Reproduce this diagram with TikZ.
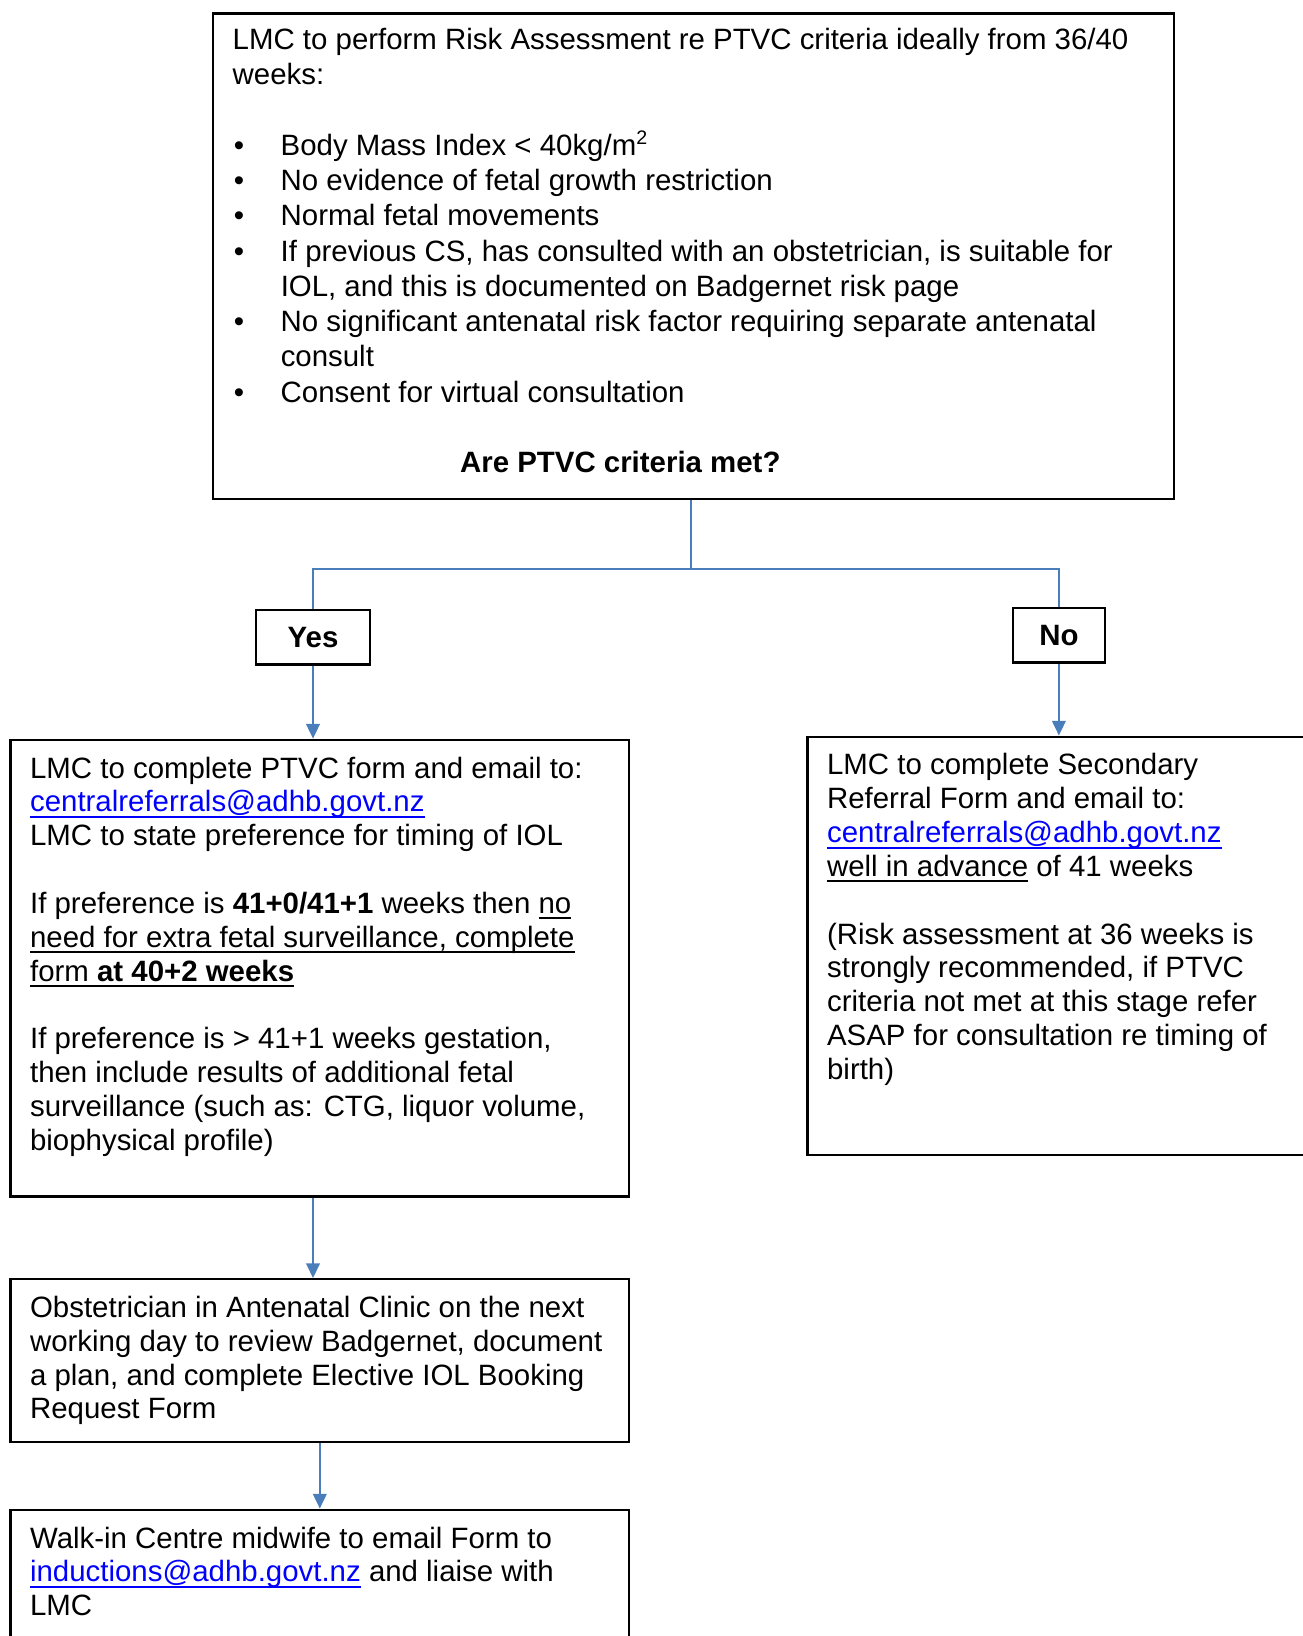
\documentclass[tikz,border=0pt]{standalone}
\usepackage{fontspec}
\setmainfont{Liberation Sans}
\usetikzlibrary{arrows.meta}
\definecolor{wireblue}{RGB}{74,126,187}
\definecolor{linkblue}{RGB}{0,0,255}
\newsavebox{\ulbox}
\newcommand{\uln}[1]{\leavevmode\sbox{\ulbox}{#1}\rlap{\rule[-2.4pt]{\wd\ulbox}{0.8pt}}\usebox{\ulbox}}
\newcommand{\mail}[1]{\textcolor{linkblue}{\uln{#1}}}
\newcommand{\bul}{\par\noindent\hangindent=19.6pt\hangafter=1\makebox[19.6pt][l]{\hspace{0.5pt}\textbullet}}
\newcommand{\boxtext}[3]{\parbox[t][#1][t]{#2}{\raggedright\strut#3}}

\begin{document}
\begin{tikzpicture}[x=0.408pt,y=-0.408pt,
	stepbox/.style={draw,line width=0.9pt,anchor=north west,inner xsep=8pt,inner ysep=6pt,
		font=\fontsize{12pt}{13.8pt}\selectfont},
	choice/.style={draw,line width=0.9pt,inner sep=0pt,minimum height=22.2pt,
		font=\fontsize{12pt}{13.8pt}\selectfont\bfseries},
	wire/.style={draw=wireblue,line width=0.75pt},
	flow/.style={wire,-{Triangle[width=5.6pt,length=6pt]}}]
	\useasboundingbox (0,0) rectangle (1303,1636);
	\clip (0,0) rectangle (1303,1636);

	\node[stepbox,inner ysep=4.5pt,font=\fontsize{12pt}{14.4pt}\selectfont] (risk) at (212,12.5) {\boxtext{188.9pt}{376.1pt}{%
		LMC to perform Risk Assessment re PTVC criteria ideally from 36/40\\
		weeks:\par
		\vspace{\baselineskip}
		\bul Body Mass Index < 40kg/m\textsuperscript{2}
		\bul No evidence of fetal growth restriction
		\bul Normal fetal movements
		\bul If previous CS, has consulted with an obstetrician, is suitable for\newline
		IOL, and this is documented on Badgernet risk page
		\bul No significant antenatal risk factor requiring separate antenatal\newline
		consult
		\bul Consent for virtual consultation\par
		\vspace{\baselineskip}
		\hspace*{92.8pt}\textbf{Are PTVC criteria met?}}};

	\node[choice,minimum width=46.8pt] (yes) at (313,637.3) {Yes};
	\node[choice,minimum width=37.5pt] (no) at (1058.9,635.2) {No};

	\node[stepbox] (ptvcform) at (9.4,738.6) {\boxtext{174.4pt}{236.4pt}{%
		LMC to complete PTVC form and email to:\\
		\mail{centralreferrals@adhb.govt.nz}\\
		LMC to state preference for timing of IOL\\[\baselineskip]
		If preference is \textbf{41+0/41+1} weeks then \uln{no}\\
		\uln{need for extra fetal surveillance, complete}\\
		\uln{form \textbf{at 40+2 weeks}}\\[\baselineskip]
		If preference is > 41+1 weeks gestation,\\
		then include results of additional fetal\\
		surveillance (such as: CTG, liquor volume,\\
		biophysical profile)}};

	\node[stepbox] (secref) at (806.4,735.5) {\boxtext{158.7pt}{237pt}{%
		LMC to complete Secondary\\
		Referral Form and email to:\\
		\mail{centralreferrals@adhb.govt.nz}\\
		\uln{well in advance} of 41 weeks\\[\baselineskip]
		(Risk assessment at 36 weeks is\\
		strongly recommended, if PTVC\\
		criteria not met at this stage refer\\
		ASAP for consultation re timing of\\
		birth)}};

	\node[stepbox] (obsreview) at (9.4,1278) {\boxtext{54.4pt}{236.4pt}{%
		Obstetrician in Antenatal Clinic on the next\\
		working day to review Badgernet, document\\
		a plan, and complete Elective IOL Booking\\
		Request Form}};

	\node[stepbox] (walkin) at (9.4,1508.5) {\boxtext{69.6pt}{236.4pt}{%
		Walk-in Centre midwife to email Form to\\
		\mail{inductions@adhb.govt.nz} and liaise with\\
		LMC}};

	\draw[wire] ([xshift=-1.2pt]risk.south) -- ++(0,69) coordinate (split);
	\draw[wire] (split) -| (yes.north);
	\draw[wire] (split) -| (no.north);
	\draw[flow] (yes.south) -- (yes.south |- ptvcform.north);
	\draw[flow] (no.south) -- (no.south |- secref.north);
	\draw[flow] (ptvcform.south -| yes.south) -- (obsreview.north -| yes.south);
	\draw[flow] (obsreview.south) -- (walkin.north);
\end{tikzpicture}
\end{document}
